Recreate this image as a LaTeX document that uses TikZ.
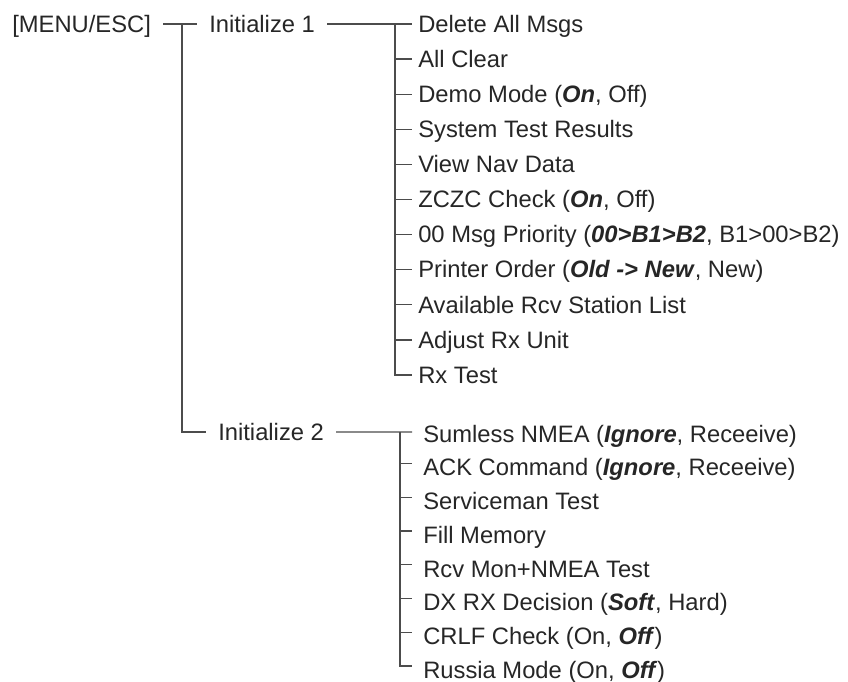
\documentclass[tikz,border=0pt]{standalone}
\usepackage{fontspec}
\setmainfont{Liberation Sans}
\usetikzlibrary{positioning, calc}
\newcommand{\bi}[1]{\textbf{\textit{#1}}}

\begin{document}
\begin{tikzpicture}[
    every node/.style={font=\fontsize{16.9}{20}\selectfont, text=black!85,
        text height=0.55cm, text depth=0.14cm},
    top/.style={anchor=west, inner xsep=0.3cm, inner ysep=0},
    menu/.style={anchor=west, inner xsep=0.15cm, inner ysep=0},
    menub/.style={anchor=west, inner xsep=0.275cm, inner ysep=0},
    line/.style={black!70, line width=0.9pt}]

    \useasboundingbox (0,0) rectangle (21.2,-17.025);

    % Top level
    \node[top] (root) at (0,-0.6) {[MENU/ESC]};
    \node[top] (init1) at (4.925,-0.6) {Initialize 1};
    \node[top] (init2) at (5.15,-10.8) {Initialize 2};

    \coordinate (b0) at (4.55,-0.6);
    \draw[line] (root.east) -- (init1.west);
    \draw[line] (b0) |- (init2.west);

    % Initialize 1 menu
    \coordinate (b1) at (9.875,-0.6);
    \foreach \t [count=\i] in {Delete All Msgs, All Clear,
        {Demo Mode (\bi{On}, Off)}, System Test Results, View Nav Data,
        {ZCZC Check (\bi{On}, Off)},
        {00 Msg Priority (\bi{00>B1>B2}, B1>00>B2)},
        {Printer Order (\bi{Old -> New}, New)},
        Available Rcv Station List, Adjust Rx Unit, Rx Test}
        \node[menu] (a\i) at (10.3,{-0.6-0.8775*(\i-1)}) {\t};

    \draw[line] (init1.east) -- (a1.west);
    \draw[line] (b1) |- (a11.west);
    \foreach \i in {2,...,10}
        \draw[line] (b1 |- a\i.west) -- (a\i.west);

    % Initialize 2 menu
    \coordinate (b2) at (10.0,-10.8);
    \foreach \t [count=\i] in {{Sumless NMEA (\bi{Ignore}, Receeive)},
        {ACK Command (\bi{Ignore}, Receeive)}, Serviceman Test, Fill Memory,
        Rcv Mon+NMEA Test, {DX RX Decision (\bi{Soft}, Hard)},
        {CRLF Check (On, \bi{Off})}, {Russia Mode (On, \bi{Off})}}
        \node[menub] (c\i) at (10.3,{-10.85-0.8425*(\i-1)}) {\t};

    \draw[line] (init2.east) -- (b2) -- ($(c1.west)+(0,0.05)$);
    \draw[line] (b2) |- ($(c8.west)+(0,0.1)$);
    \foreach \i in {2,...,7}
        \draw[line] ($(b2 |- c\i.west)+(0,0.1)$) -- ($(c\i.west)+(0,0.1)$);

\end{tikzpicture}
\end{document}
